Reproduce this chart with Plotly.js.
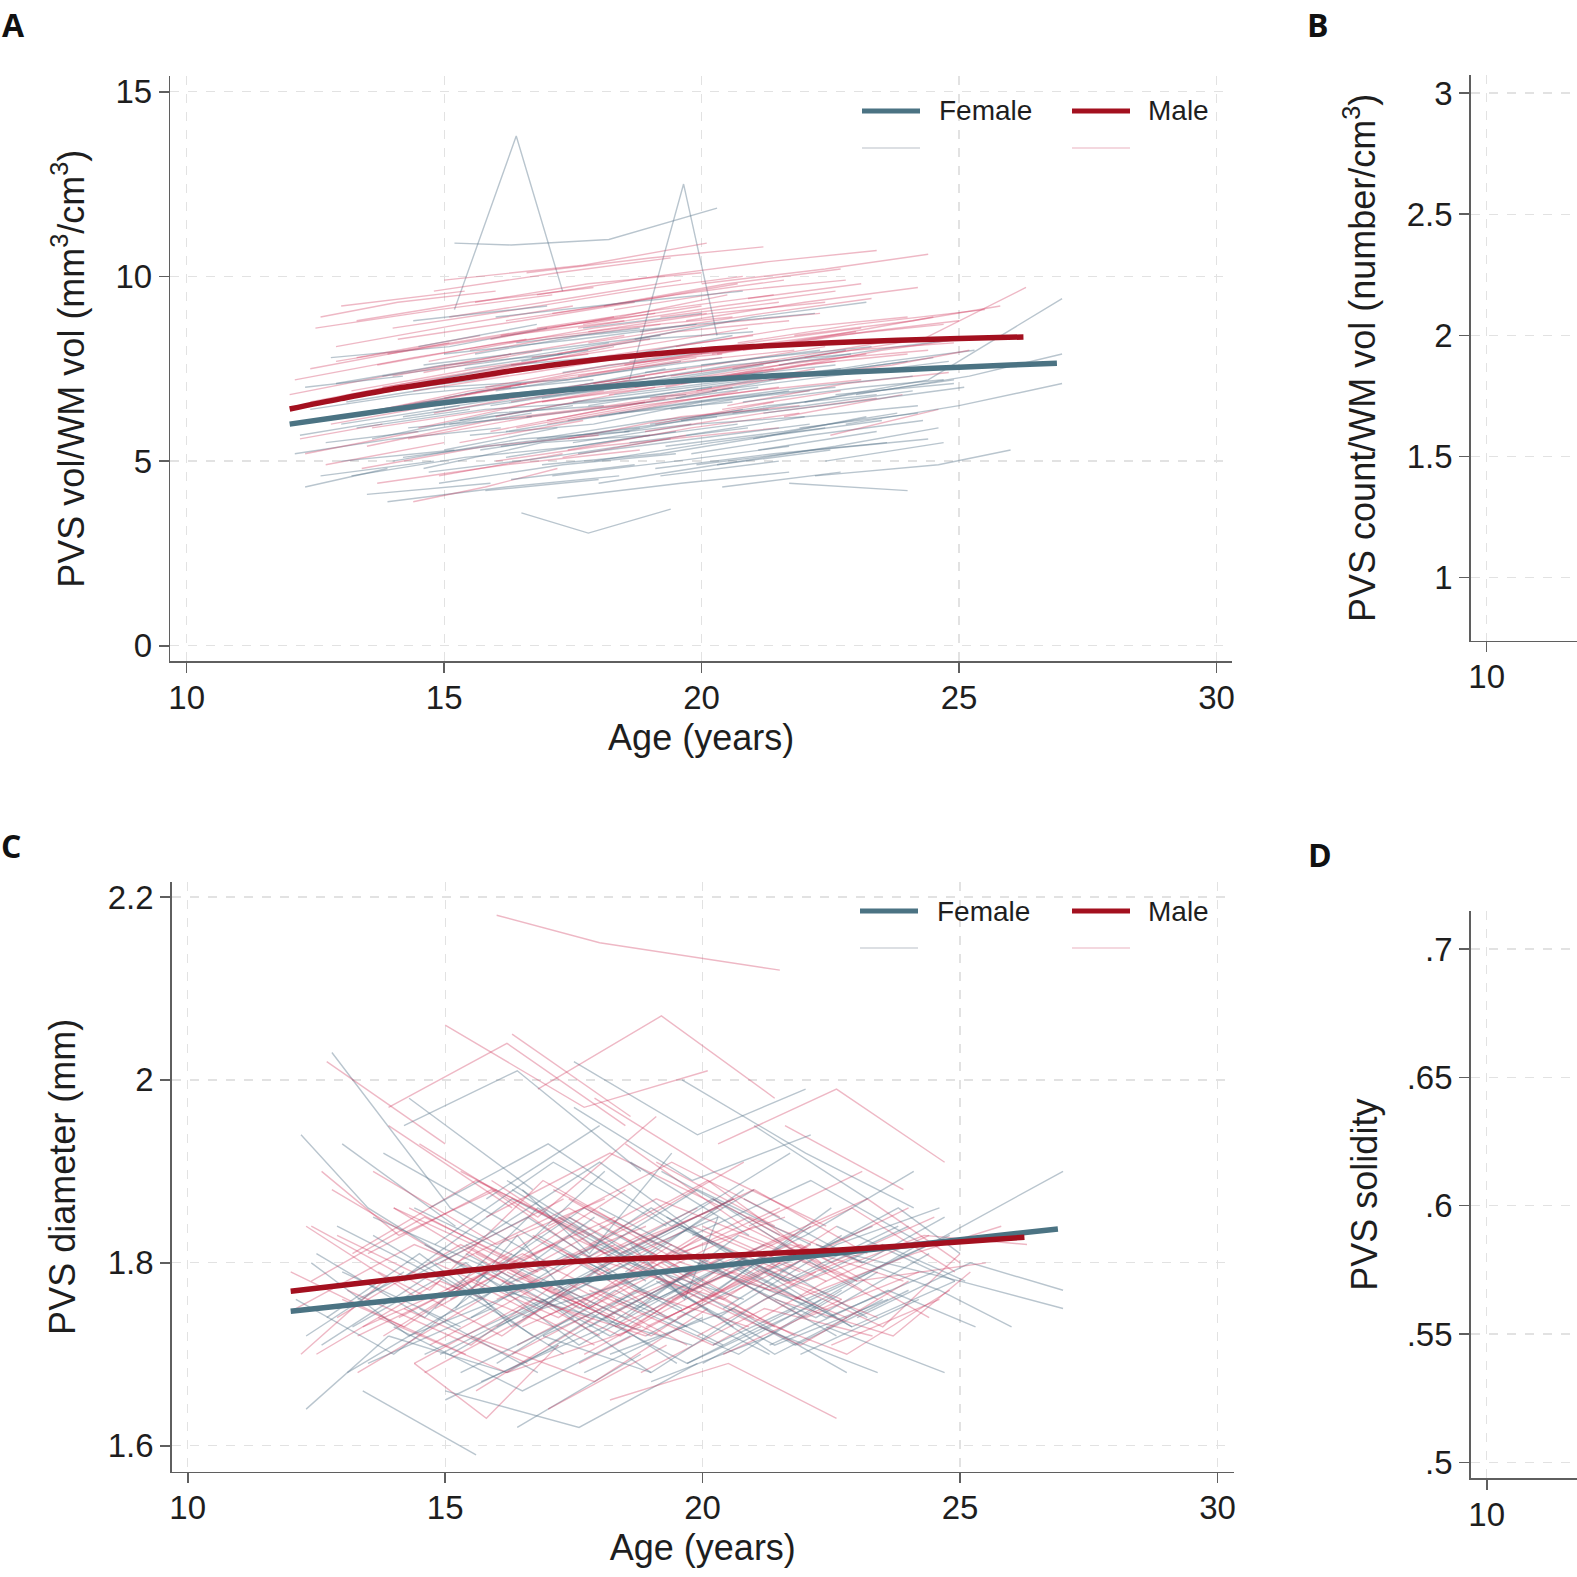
<!DOCTYPE html>
<html>
<head>
<meta charset="utf-8">
<script src="https://cdn.plot.ly/plotly-3.0.1.min.js"></script>
<style>
html,body{margin:0;padding:0;background:#fff;}
#chart{width:1577px;height:1577px;}
</style>
</head>
<body>
<div id="chart"></div>
<script>
// ---------- Data ----------
// Individual female trajectories: ages (shared by panels A and C), PVS vol/WM vol, PVS diameter
const femaleAges = [
 [12.1,14.0,16.1],[12.3,13.9],[12.5,14.6,16.8,18.9],[12.8,15.1,17.0],[13.0,15.2],
 [13.2,15.4,17.6,19.5],[13.4,15.6],[13.6,16.0,18.1],[13.9,16.2,18.4],[14.1,16.3,18.7,20.6],
 [14.3,16.7],[14.6,16.9,19.0],[14.8,17.1,19.3],[15.0,17.2],[15.2,16.4,17.3],
 [15.2,16.3,18.2,20.3],[15.5,17.9,20.0,22.1],[15.8,18.0],[16.0,18.3,20.4],[16.2,18.5,20.7],
 [16.4,18.8],[16.6,19.0,21.1],[16.9,19.2,21.4,23.5],[16.5,17.8,19.4],[17.3,19.7,21.8],
 [17.5,19.9,22.0],[17.8,20.1],[18.0,20.3,22.5],[18.2,20.6,22.8],[18.5,20.8],
 [18.7,21.0,23.2],[19.0,21.3,23.4],[19.2,21.5],[19.5,21.8,24.0],[19.8,22.1,24.3],
 [20.0,22.3],[20.3,22.6,24.6],[20.6,22.9,24.9],[21.0,23.2],[21.3,23.6,25.3],
 [21.7,24.0],[22.0,24.4,27.0],[22.4,24.7],[22.8,25.0,27.0],[13.1,14.9,17.4,19.6],
 [14.4,17.0],[16.1,19.8],[18.6,19.65,20.3],[12.2,13.5,15.5],[23.0,25.2,27.0],
 [12.4,14.3,16.5],[12.6,14.8],[12.9,15.0,17.3],[13.3,15.8,18.0,20.2],[13.5,15.9],
 [13.8,16.0,18.2],[14.0,16.5,18.6],[14.2,16.6,19.1,21.2],[14.5,16.8],[14.7,17.0,19.4],
 [15.1,17.6,19.7],[15.4,17.8],[15.7,18.1,20.3],[15.9,18.2,20.5,22.6],[16.3,18.7],
 [16.5,18.9,21.0],[16.8,19.1,21.3],[17.0,19.3],[17.2,19.6,21.7],[17.4,19.8,22.0,24.1],
 [17.7,20.0],[17.9,20.2,22.4],[18.3,20.7,22.7],[18.6,20.9],[18.9,21.2,23.3],
 [19.1,21.4,23.6],[19.4,21.7],[19.7,22.0,24.2],[20.1,22.4,24.5],[20.4,22.7],
 [20.8,23.1,24.7],[21.1,23.4],[21.5,23.8,25.0],[21.9,24.2],[22.2,24.6,26.0],
 [12.7,14.5,16.7],[13.6,15.7,17.9],[14.9,17.3,19.5],[15.6,17.7,19.9,22.2],[16.2,18.4,20.6],
 [16.9,19.0,21.2],[17.6,19.9,22.1],[18.4,20.6,22.9],[19.3,21.6,23.8],[20.2,22.5,24.8],
 [13.0,15.3],[14.6,16.9,19.2],[15.3,17.5],[17.1,19.5,21.7],[18.0,20.4,22.6],
 [21.2,23.5,25.1],[12.3,14.2],[19.9,22.2,24.4],[16.0,18.6,20.8],[22.6,24.9],
 [14.2,16.4,18.8],[17.5,19.8,22.1],[15.0,17.6,19.9],[19.6,22.0,24.1]
];
const femaleVol = [
 [5.2,5.6,5.9],[4.3,4.8],[6.1,6.6,6.9,7.3],[7.8,8.1,8.6],[5.0,5.3],
 [4.6,5.1,5.4,5.8],[6.8,7.2],[5.6,6.3,6.5],[3.9,4.3,4.6],[7.0,7.6,7.9,8.4],
 [5.9,6.2],[4.8,5.5,5.7],[6.4,6.9,7.5],[5.3,5.9],[9.1,13.8,9.6],
 [10.9,10.85,11.0,11.85],[5.7,6.0,6.6,6.9],[4.2,4.5],[6.9,7.4,7.8],[5.1,5.6,6.0],
 [8.2,8.6],[6.2,6.6,7.0],[4.9,5.2,5.7,6.1],[3.6,3.05,3.7],[7.4,7.9,8.2],
 [5.5,6.0,6.2],[6.5,7.0],[4.4,4.9,5.3],[7.0,7.5,8.0],[5.8,6.4],
 [8.3,8.9,9.3],[6.0,6.5,6.8],[4.6,5.0],[6.7,7.3,7.7],[5.2,5.7,6.1],
 [7.6,8.0],[4.9,5.4,5.9],[6.3,6.8,7.2],[5.6,6.2],[7.2,7.7,8.0],
 [4.4,4.2],[6.6,7.2,9.4],[5.0,5.5],[6.0,6.5,7.1],[6.6,7.0,7.2,7.7],
 [8.8,9.2],[5.4,6.0],[7.2,12.5,8.4],[5.7,6.0,6.4],[6.8,7.3,7.9],
 [6.4,6.8,7.1],[4.6,5.0],[7.1,7.6,7.9],[5.9,6.4,6.6,7.0],[4.1,4.4],
 [7.3,7.7,8.2],[5.0,5.6,5.8],[6.2,6.7,7.1,7.4],[8.1,8.7],[4.7,5.1,5.6],
 [6.0,6.6,6.8],[7.5,8.0],[5.3,5.8,6.2],[6.5,7.0,7.3,7.6],[4.5,4.9],
 [7.7,8.3,8.5],[5.6,6.1,6.4],[6.9,7.3],[4.0,4.4,4.7],[6.1,6.6,7.0,7.3],
 [8.6,9.0],[5.0,5.5,5.9],[6.8,7.2,7.5],[5.5,5.9],[7.4,7.8,8.1],
 [4.8,5.2,5.5],[6.4,6.9],[5.7,6.2,6.5],[7.0,7.4,7.8],[4.3,4.7],
 [6.6,7.0,7.2],[5.3,5.8],[7.6,8.1,8.3],[5.9,6.3],[4.6,4.9,5.3],
 [5.5,5.8,6.3],[6.3,6.9,7.2],[4.4,4.9,5.2],[7.9,8.4,8.7,9.0],[5.8,6.3,6.6],
 [6.7,7.1,7.6],[5.2,5.6,6.0],[7.1,7.6,7.9],[5.4,5.8,6.3],[6.9,7.3,7.7],
 [6.0,6.5],[7.6,8.0,8.4],[6.1,6.5],[4.6,5.0,5.4],[6.2,6.7,7.0],
 [6.3,6.7,7.0],[7.0,7.3],[4.9,5.3,5.6],[8.9,9.3,9.6],[6.8,7.1],
 [5.1,5.5,5.9],[6.6,7.0,7.4],[7.9,8.3,8.7],[6.1,6.5,6.9]
];
const femaleDiam = [
 [1.76,1.70,1.79],[1.64,1.72],[1.81,1.74,1.86,1.78],[2.03,1.86,1.80],[1.93,1.84],
 [1.73,1.80,1.71,1.77],[1.66,1.59],[1.85,1.79,1.90],[1.72,1.68,1.75],[1.78,1.87,1.80,1.73],
 [1.98,1.88],[1.70,1.76,1.68],[1.82,1.91,1.84],[1.65,1.71],[1.75,1.83,1.77],
 [1.79,1.73,1.80,1.85],[1.74,1.82,1.76,1.84],[1.87,1.95],[1.69,1.77,1.71],[1.80,1.74,1.83],
 [1.62,1.70],[1.77,1.86,1.79],[1.72,1.78,1.70,1.76],[1.88,1.81,1.92],[1.76,1.69,1.75],
 [2.02,1.94,1.99],[1.73,1.80],[1.84,1.77,1.86],[1.70,1.75,1.68],[1.79,1.88],
 [1.75,1.81,1.74],[1.67,1.72,1.79],[1.90,1.83],[1.78,1.71,1.77],[1.83,1.89,1.82],
 [1.69,1.76],[1.74,1.82,1.86],[1.80,1.73,1.78],[1.95,1.87],[1.71,1.77,1.73],
 [1.78,1.84],[1.76,1.82,1.90],[1.73,1.68],[1.81,1.78,1.75],[1.68,1.74,1.81,1.75],
 [1.86,1.79],[1.77,1.71],[1.82,1.76,1.85],[1.94,1.86,1.79],[1.74,1.80,1.77],
 [1.80,1.72,1.77],[1.71,1.79],[1.84,1.78,1.70],[1.76,1.83,1.91,1.82],[1.69,1.75],
 [1.92,1.85,1.78],[1.73,1.66,1.72],[1.78,1.85,1.76,1.82],[1.75,1.68],[1.86,1.93,1.84],
 [1.70,1.78,1.73],[1.81,1.74],[1.67,1.73,1.81],[1.79,1.72,1.80,1.74],[1.88,1.80],
 [1.74,1.81,1.88],[1.83,1.76,1.70],[1.71,1.79],[1.77,1.84,1.78],[1.85,1.77,1.83,1.90],
 [1.68,1.74],[1.80,1.87,1.79],[1.76,1.70,1.77],[1.91,1.83],[1.72,1.79,1.84],
 [1.78,1.71,1.76],[1.84,1.92],[1.69,1.75,1.82],[1.81,1.74,1.79],[1.75,1.83],
 [1.87,1.80,1.85],[1.73,1.68],[1.79,1.86,1.81],[1.70,1.76],[1.82,1.77,1.73],
 [1.74,1.81,1.72],[1.83,1.76,1.85],[1.70,1.77,1.69],[1.78,1.86,1.80,1.75],[1.89,1.81,1.87],
 [1.72,1.68,1.76],[1.80,1.88,1.82],[1.75,1.81,1.73],[1.85,1.78,1.84],[1.71,1.77,1.83],
 [1.79,1.73],[1.82,1.75,1.79],[1.68,1.74],[1.77,1.84,1.78],[1.86,1.79,1.72],
 [1.76,1.82,1.78],[1.72,1.79],[1.80,1.74,1.81],[1.73,1.80,1.76],[1.84,1.78],
 [1.95,2.01,1.90],[1.97,1.89,1.94],[1.66,1.62,1.69],[2.00,1.92,1.86]
];
// Individual male trajectories
const maleAges = [
 [12.0,14.2,16.3],[12.2,13.8],[12.4,14.7,16.9,19.1],[12.7,15.0],[12.9,15.3,17.5],
 [13.1,15.5,17.7,19.9],[13.3,15.7],[13.5,15.9,18.2],[13.8,16.1,18.3],[14.0,16.4,18.6,20.8],
 [14.2,16.6],[14.5,16.8,19.1],[14.7,17.0,19.2],[14.9,17.3],[15.1,17.4,19.6],
 [15.4,17.6,19.9,22.0],[15.6,17.9],[15.9,18.1,20.3],[16.1,18.4,20.5],[16.3,18.6],
 [16.5,18.9,21.0],[16.8,19.1,21.3,23.4],[17.0,19.3],[17.2,19.5,21.7],[17.4,19.8,21.9],
 [17.7,20.0],[17.9,20.2,22.4],[18.1,20.5,22.7],[18.4,20.7],[18.6,20.9,23.1],
 [18.8,21.2,23.3],[19.1,21.4],[19.4,21.7,23.9],[19.7,22.0,24.2],[19.9,22.2],
 [20.2,22.5,24.5],[20.5,22.8,24.8],[20.9,23.1],[21.2,23.5,25.0],[21.6,23.9],
 [22.0,24.3,26.3],[22.5,24.6],[12.6,14.1,16.0],[13.7,16.2,18.8],[15.0,17.7,20.1],
 [16.0,18.0,21.5],[17.6,20.4,22.6],[19.3,21.9,24.4],[14.4,15.8,17.2],[20.7,23.0,25.5],
 [12.1,14.4,16.6],[12.3,14.5],[12.5,14.9,17.1],[12.8,15.2,17.4,19.7],[13.0,15.4],
 [13.2,15.6,17.8],[13.4,15.8,18.0],[13.7,16.1,18.4,20.6],[13.9,16.3],[14.1,16.5,18.7],
 [14.3,16.7,18.9],[14.6,16.9],[14.8,17.2,19.4],[15.0,17.4,19.7,21.8],[15.3,17.7],
 [15.5,17.9,20.1],[15.8,18.2,20.4],[16.0,18.3],[16.2,18.6,20.7],[16.4,18.8,21.0,23.1],
 [16.7,19.0],[16.9,19.2,21.4],[17.1,19.5,21.6],[17.3,19.7],[17.6,20.0,22.1],
 [17.8,20.1,22.3],[18.2,20.6],[18.5,20.8,23.0],[18.9,21.2,23.4],[19.2,21.5],
 [19.6,21.9,24.0],[20.0,22.4,24.4],[20.4,22.7],[20.8,23.2,25.0],[21.4,23.7,25.2],
 [12.4,14.6,16.8],[13.3,15.5,17.9],[14.0,16.3,18.5],[14.8,17.1,19.3,21.5],[15.6,17.8,20.0],
 [16.3,18.7,20.9],[17.0,19.4,21.5],[17.8,20.2,22.4],[18.7,21.0,23.2],[19.5,21.8,24.0],
 [12.9,15.1],[14.4,16.7,18.9],[15.9,18.3],[17.4,19.6,21.9],[18.3,20.6,22.8],
 [20.6,22.9,24.9],[21.8,24.1,25.8],[13.6,16.0,18.1],[16.6,19.0,21.2],[19.0,21.3,23.5],
 [13.9,16.2,18.5],[16.8,19.2,21.4],[18.2,20.5,22.6],[20.3,22.6,24.7]
];
const maleVol = [
 [6.8,7.4,7.9],[5.6,6.0],[7.5,8.1,8.6,9.0],[4.9,5.5],[8.1,8.7,9.2],
 [6.2,6.9,7.3,7.8],[7.8,8.4],[5.4,6.1,6.5],[7.0,7.5,8.1],[8.6,9.1,9.6,10.0],
 [6.5,7.1],[5.9,6.6,7.0],[7.7,8.3,8.7],[4.6,5.2],[8.9,9.4,9.9],
 [6.8,7.4,7.9,8.2],[7.2,7.8],[5.8,6.4,6.9],[8.4,8.9,9.5],[6.6,7.2],
 [7.5,8.0,8.4],[9.5,10.0,10.4,10.7],[6.1,6.7],[7.9,8.5,8.8],[5.3,5.9,6.3],
 [8.7,9.2],[7.1,7.6,8.1],[9.2,9.8,10.2],[6.3,6.9],[7.7,8.2,8.6],
 [8.5,9.0,9.4],[6.0,6.6],[7.3,7.8,8.3],[8.8,9.3,9.7],[6.9,7.5],
 [7.9,8.4,8.9],[6.5,7.1,7.4],[9.4,9.8],[7.4,8.0,8.3],[6.2,6.8],
 [7.8,8.3,9.7],[5.7,6.4],[8.9,9.3,9.6],[4.4,4.9,5.3],[9.9,10.3,10.9],
 [5.0,5.4,5.9],[8.6,9.2,9.6],[7.0,7.7,8.0],[3.9,4.3,4.8],[8.2,8.7,9.1],
 [7.2,7.8,8.3],[5.2,5.8],[8.6,9.1,9.5],[6.0,6.6,7.0,7.5],[9.2,9.6],
 [6.9,7.5,7.9],[4.8,5.4,5.7],[7.6,8.2,8.6,8.9],[6.4,7.0],[8.3,8.8,9.3],
 [5.6,6.2,6.6],[7.4,8.0],[9.6,10.1,10.5],[6.7,7.3,7.7,8.0],[5.5,6.1],
 [8.0,8.6,9.0],[7.0,7.6,7.9],[6.2,6.8],[8.8,9.3,9.8],[5.9,6.5,6.9,7.2],
 [7.8,8.3],[6.6,7.1,7.5],[9.0,9.5,9.9],[5.1,5.7],[7.3,7.9,8.2],
 [8.2,8.7,9.0],[6.5,7.0],[7.6,8.1,8.5],[5.8,6.3,6.7],[8.9,9.3],
 [7.1,7.6,7.9],[9.8,10.2,10.6],[6.4,6.9],[8.0,8.5,8.8],[7.2,7.6,8.0],
 [6.6,7.2,7.7],[8.8,9.3,9.7],[7.3,7.9,8.4],[6.3,6.9,7.3,7.7],[9.3,9.8,10.1],
 [7.6,8.1,8.6],[6.0,6.6,7.0],[8.5,9.0,9.3],[7.0,7.5,7.9],[8.1,8.6,8.9],
 [7.7,8.2],[6.9,7.4,7.9],[8.3,8.9],[5.6,6.2,6.5],[9.1,9.6,9.9],
 [7.5,8.0,8.2],[8.4,8.8,9.2],[5.9,6.4,6.9],[10.1,10.5,10.8],[6.7,7.2,7.5],
 [7.9,8.4,8.8],[8.6,9.1,9.5],[6.8,7.3,7.7],[7.9,8.4,8.7]
];
const maleDiam = [
 [1.79,1.73,1.81],[1.70,1.78],[1.84,1.77,1.89,1.82],[2.02,1.93],[1.74,1.82,1.76],
 [1.77,1.71,1.80,1.86],[1.68,1.76],[1.81,1.88,1.79],[1.72,1.80,1.74],[1.86,1.78,1.84,1.91],
 [1.75,1.69],[1.93,1.85,1.96],[1.71,1.78,1.72],[1.80,1.87],[1.76,1.83,1.77],
 [1.82,1.75,1.83,1.78],[1.66,1.74],[1.89,1.81,1.86],[1.78,1.72,1.80],[2.05,1.96],
 [1.73,1.79,1.74],[1.80,1.87,1.82,1.76],[1.64,1.71],[1.85,1.78,1.83],[1.77,1.84,1.79],
 [1.70,1.77],[1.98,1.90,1.84],[1.74,1.81,1.76],[1.83,1.76],[1.79,1.85,1.80],
 [1.68,1.75,1.72],[1.91,1.84],[1.76,1.82,1.78],[1.81,1.74,1.79],[1.72,1.79],
 [1.87,1.80,1.85],[1.75,1.70,1.77],[1.84,1.90],[1.79,1.73,1.81],[1.95,1.88],
 [1.78,1.83,1.82],[1.71,1.76],[1.90,1.83,1.88],[1.74,1.68,1.73],[2.06,1.97,2.01],
 [2.18,2.15,2.12],[1.81,1.76,1.84],[1.76,1.82,1.74],[1.69,1.63,1.71],[1.83,1.78,1.80],
 [1.75,1.82,1.77],[1.84,1.76],[1.70,1.78,1.73],[1.88,1.80,1.86,1.79],[1.76,1.70],
 [1.81,1.89,1.83],[1.73,1.79,1.72],[1.79,1.72,1.81,1.87],[1.95,1.86],[1.74,1.81,1.75],
 [1.86,1.79,1.84],[1.68,1.75],[1.80,1.74,1.82],[1.77,1.85,1.78,1.72],[1.90,1.83],
 [1.72,1.67,1.75],[1.85,1.92,1.86],[1.76,1.82],[1.79,1.73,1.80],[1.71,1.78,1.84,1.77],
 [1.83,1.76],[1.74,1.80,1.73],[1.88,1.81,1.85],[1.78,1.71],[1.69,1.76,1.82],
 [1.82,1.89,1.80],[1.75,1.81],[1.93,1.84,1.78],[1.73,1.79,1.74],[1.80,1.86],
 [1.77,1.71,1.78],[1.84,1.78,1.83],[1.70,1.76],[1.81,1.87,1.80],[1.76,1.72,1.79],
 [1.78,1.85,1.79],[1.72,1.78,1.71],[1.86,1.80,1.88],[1.75,1.82,1.74,1.80],[1.81,1.75,1.83],
 [1.70,1.77,1.73],[1.84,1.91,1.85],[1.77,1.71,1.78],[1.82,1.88,1.81],[1.74,1.80,1.86],
 [1.83,1.77],[1.69,1.76,1.72],[1.79,1.85],[1.87,1.80,1.76],[1.73,1.79,1.74],
 [1.80,1.86,1.79],[1.76,1.81,1.84],[1.90,1.82,1.87],[1.78,1.72,1.80],[1.83,1.77,1.82],
 [1.97,2.04,1.95],[1.99,2.07,1.98],[1.65,1.69,1.63],[1.93,1.99,1.91]
];
// Fitted mean curves
const fitFemaleAgesA = [12,13,14,15,16,17,18,19,20,21,22,23,24,25,26,26.9];
const fitFemaleVol   = [6.00,6.20,6.40,6.58,6.73,6.88,7.00,7.11,7.20,7.28,7.35,7.42,7.48,7.54,7.60,7.65];
const fitMaleAgesA   = [12,13,14,15,16,17,18,19,20,21,22,23,24,25,26.25];
const fitMaleVol     = [6.41,6.69,6.95,7.16,7.38,7.58,7.75,7.89,8.01,8.10,8.17,8.23,8.28,8.32,8.36];
const fitFemaleAgesC = [12,15,18,21,24,26.9];
const fitFemaleDiam  = [1.747,1.765,1.783,1.801,1.819,1.837];
const fitMaleAgesC   = [12.0,14,16,18,20,22,24,26.25];
const fitMaleDiam    = [1.769,1.782,1.795,1.803,1.807,1.812,1.819,1.828];

// Tick labels
const ageTicks = [10,15,20,25,30];
const volTicks = [0,5,10,15];
const countTicks = [1,1.5,2,2.5,3];
const countTickText = ['1','1.5','2','2.5','3'];
const diamTicks = [1.6,1.8,2.0,2.2];
const diamTickText = ['1.6','1.8','2','2.2'];
const solTicks = [0.5,0.55,0.6,0.65,0.7];
const solTickText = ['.5','.55','.6','.65','.7'];
const legendLabels = ['Female','Male'];

// ---------- Styles ----------
const FEM_THIN = 'rgba(88,116,138,0.42)';
const MAL_THIN = 'rgba(205,48,86,0.34)';
const FEM_FIT = '#4b7383';
const MAL_FIT = '#a3101f';
const FONT = 'Liberation Sans, Arial, sans-serif';

const traces = [];
function addSpaghetti(ages, vals, color, xa, ya){
  return ages.map((a,i)=>({type:'scatter',mode:'lines',x:a,y:vals[i],xaxis:xa,yaxis:ya,
     line:{color:color,width:1.4},hoverinfo:'skip',showlegend:false}));
}
function interleave(a,b){const out=[];const n=Math.max(a.length,b.length);
  for(let i=0;i<n;i++){if(a[i])out.push(a[i]);if(b[i])out.push(b[i]);}return out;}

traces.push(...interleave(addSpaghetti(femaleAges,femaleVol,FEM_THIN,'x','y'),
                          addSpaghetti(maleAges,maleVol,MAL_THIN,'x','y')));
traces.push(...interleave(addSpaghetti(femaleAges,femaleDiam,FEM_THIN,'x3','y3'),
                          addSpaghetti(maleAges,maleDiam,MAL_THIN,'x3','y3')));
traces.push({type:'scatter',mode:'lines',x:fitFemaleAgesA,y:fitFemaleVol,xaxis:'x',yaxis:'y',
  line:{color:FEM_FIT,width:5.5,shape:'spline'},showlegend:false,name:'Female'});
traces.push({type:'scatter',mode:'lines',x:fitMaleAgesA,y:fitMaleVol,xaxis:'x',yaxis:'y',
  line:{color:MAL_FIT,width:5.5,shape:'spline'},showlegend:false,name:'Male'});
traces.push({type:'scatter',mode:'lines',x:fitFemaleAgesC,y:fitFemaleDiam,xaxis:'x3',yaxis:'y3',
  line:{color:FEM_FIT,width:5.5,shape:'spline'},showlegend:false,name:'Female'});
traces.push({type:'scatter',mode:'lines',x:fitMaleAgesC,y:fitMaleDiam,xaxis:'x3',yaxis:'y3',
  line:{color:MAL_FIT,width:5.5,shape:'spline'},showlegend:false,name:'Male'});
// empty traces so panels B and D exist
traces.push({type:'scatter',mode:'lines',x:[],y:[],xaxis:'x2',yaxis:'y2',showlegend:false});
traces.push({type:'scatter',mode:'lines',x:[],y:[],xaxis:'x4',yaxis:'y4',showlegend:false});

const W = 1577, H = 1577;
const px = v => v / W;
const py = v => 1 - v / H;
const TICKFONT = {family:FONT,size:33,color:'#1e1e1e'};
const TITLEFONT = {family:FONT,size:36,color:'#1e1e1e'};

function axisBase(){
  return {showline:true,linecolor:'#5f5f5f',linewidth:1.6,ticks:'outside',ticklen:10,
    tickcolor:'#5f5f5f',tickwidth:1.6,showgrid:true,gridcolor:'#e2e2e2',griddash:'dash',
    gridwidth:1.2,zeroline:false,tickfont:TICKFONT,fixedrange:true};
}
function xAx(dom, rng, anchor, showTitle){
  const ax = Object.assign(axisBase(),{domain:dom,range:rng,anchor:anchor,tickmode:'array',
    tickvals:ageTicks,ticktext:ageTicks.map(String),ticklabelstandoff:-4});
  if(showTitle) ax.title = {text:'Age (years)',font:TITLEFONT,standoff:10};
  return ax;
}
function yAx(dom, rng, anchor, vals, text, title, standoff){
  return Object.assign(axisBase(),{domain:dom,range:rng,anchor:anchor,tickmode:'array',
    tickvals:vals,ticktext:text,
    title:{text:title,font:TITLEFONT,standoff:standoff}});
}

const layout = {
  width:W,height:H,margin:{l:0,r:0,t:0,b:0},paper_bgcolor:'#fff',plot_bgcolor:'#fff',
  showlegend:false,
  xaxis: xAx([px(170.3),px(1232)],[9.682,30.30],'y',true),
  yaxis: yAx([py(661.3),py(76)],[-0.42,15.425],'x',volTicks,volTicks.map(String),
         'PVS vol/WM vol (mm<sup>3</sup>/cm<sup>3</sup>)',20),
  xaxis2: xAx([px(1470.7),1],[9.689,11.758],'y2',false),
  yaxis2: yAx([py(640.7),py(75)],[0.74,3.074],'x2',countTicks,countTickText,
         'PVS count/WM vol (number/cm<sup>3</sup>)',20),
  xaxis3: xAx([px(171.7),px(1234)],[9.689,30.32],'y3',true),
  yaxis3: yAx([py(1471.7),py(882)],[1.5716,2.2164],'x3',diamTicks,diamTickText,
         'PVS diameter (mm)',21),
  xaxis4: xAx([px(1470.7),1],[9.689,11.753],'y4',false),
  yaxis4: yAx([py(1478.3),py(911)],[0.4938,0.7148],'x4',solTicks,solTickText,
         'PVS solidity',18),
  shapes:[],
  annotations:[]
};

// panel letters
[['A',1,2],['B',1306,2],['C',0,823],['D',1307,832]].forEach(([t,x,y])=>{
  layout.annotations.push({text:'<b>'+t+'</b>',x:px(x),y:py(y),xref:'paper',yref:'paper',
    xanchor:'left',yanchor:'top',showarrow:false,borderpad:0,
    font:{family:'Open Sans, DejaVu Sans, sans-serif',size:32,color:'#111'}});
});

// legends (drawn inside panels A and C)
function addLegend(row1, row2, femX0){
  const items = [
    {x0:femX0,x1:femX0+58,tx:femX0+75,color:FEM_FIT,faint:'rgba(150,160,172,0.45)',label:legendLabels[0]},
    {x0:1072,x1:1130,tx:1146,color:MAL_FIT,faint:'rgba(222,140,160,0.45)',label:legendLabels[1]}
  ];
  items.forEach(it=>{
    layout.shapes.push({type:'line',xref:'paper',yref:'paper',x0:px(it.x0),x1:px(it.x1),
      y0:py(row1),y1:py(row1),line:{color:it.color,width:5}});
    layout.shapes.push({type:'line',xref:'paper',yref:'paper',x0:px(it.x0),x1:px(it.x1),
      y0:py(row2),y1:py(row2),line:{color:it.faint,width:1.5}});
    layout.annotations.push({text:it.label,x:px(it.tx),y:py(row1),xref:'paper',yref:'paper',
      xanchor:'left',yanchor:'middle',showarrow:false,font:{family:FONT,size:28,color:'#1e1e1e'}});
  });
}
addLegend(111,148,862);
addLegend(911,948,860);

Plotly.newPlot('chart',traces,layout,{staticPlot:true,displayModeBar:false});
</script>
</body>
</html>
